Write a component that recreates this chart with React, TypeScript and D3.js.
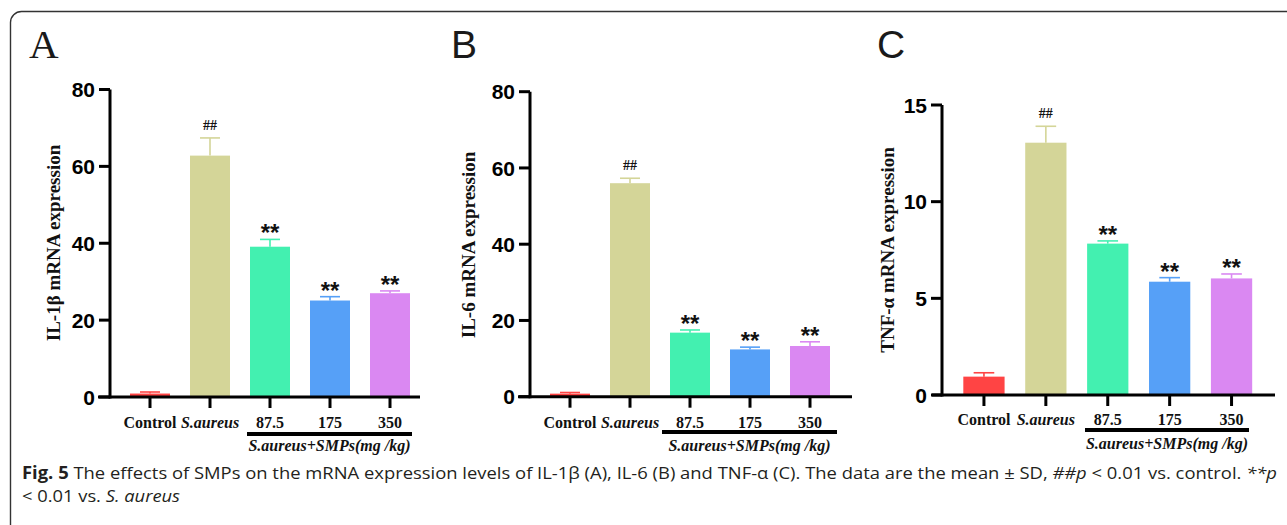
import React from "react";
import * as d3 from "d3";

// ---------- data ----------
const groups = ["Control", "S.aureus", "87.5", "175", "350"];
const groupItalic = [false, true, false, false, false];
const barColors = ["#FF4444", "#D4D598", "#43F0B0", "#56A0F7", "#DA88F2"];
const marks = ["", "##", "**", "**", "**"];

const il1bMean = [0.9, 62.8, 39.1, 25.1, 27.0];
const il1bSD = [0.4, 4.6, 1.9, 1.0, 0.6];
const il6Mean = [0.8, 56.0, 16.8, 12.4, 13.3];
const il6SD = [0.3, 1.3, 0.7, 0.6, 1.1];
const tnfMean = [0.95, 13.05, 7.83, 5.86, 6.03];
const tnfSD = [0.2, 0.85, 0.14, 0.21, 0.23];

const ticksA = [0, 20, 40, 60, 80];
const ticksB = [0, 20, 40, 60, 80];
const ticksC = [0, 5, 10, 15];

const subtitle = "S.aureus+SMPs(mg /kg)";

// ---------- layout ----------
const panels = [
  {
    letter: "A", letterFont: "'Liberation Serif', serif", letterX: 29, letterSize: 41,
    means: il1bMean, sds: il1bSD, ticks: ticksA, yMax: 80,
    yLabel: "IL-1β mRNA expression", yLabelX: 53, yLabelY: 243,
    axisX: 110, yTop: 89.5, y0: 397, bandR: [120, 420], axisLeft: 98, axisRight: 420,
    ul: [247, 412], ulY: 434, labelY: 428, subY: 451,
  },
  {
    letter: "B", letterFont: "'Liberation Sans', Arial, sans-serif", letterX: 451, letterSize: 39,
    means: il6Mean, sds: il6SD, ticks: ticksB, yMax: 80,
    yLabel: "IL-6 mRNA expression", yLabelX: 468, yLabelY: 245,
    axisX: 530, yTop: 91.7, y0: 396.7, bandR: [540, 840], axisLeft: 518, axisRight: 852,
    ul: [662, 837], ulY: 432, labelY: 428, subY: 451,
  },
  {
    letter: "C", letterFont: "'Liberation Sans', Arial, sans-serif", letterX: 877, letterSize: 39,
    means: tnfMean, sds: tnfSD, ticks: ticksC, yMax: 15,
    yLabel: "TNF-α mRNA expression", yLabelX: 887, yLabelY: 250,
    axisX: 942, yTop: 105, y0: 395, bandR: [953, 1262.5], axisLeft: 932, axisRight: 1275,
    ul: [1085, 1249], ulY: 430, labelY: 425, subY: 449,
  },
];

const serif = "'Liberation Serif', 'Times New Roman', serif";
const sans = "'Liberation Sans', Arial, sans-serif";

function Panel({ p }: { p: any }) {
  const y = d3.scaleLinear().domain([0, p.yMax]).range([p.y0, p.yTop]);
  const x = d3
    .scaleBand<string>()
    .domain(groups)
    .range(p.bandR)
    .paddingInner(1 / 3)
    .paddingOuter(1 / 6);
  const bw = x.bandwidth();
  const axisStroke = 3;
  return (
    <g>
      <text x={p.letterX} y={58} fontFamily={p.letterFont} fontSize={p.letterSize} fill="#1a1a1a">
        {p.letter}
      </text>
      {/* bars */}
      {groups.map((g, i) => {
        const cx = (x(g) as number) + bw / 2;
        const top = y(p.means[i]);
        const errTop = y(p.means[i] + p.sds[i]);
        return (
          <g key={g}>
            <line x1={cx} x2={cx} y1={top} y2={errTop} stroke={barColors[i]} strokeWidth={1.6} />
            <line x1={cx - bw / 4} x2={cx + bw / 4} y1={errTop} y2={errTop} stroke={barColors[i]} strokeWidth={1.6} />
            <rect x={x(g)} y={top} width={bw} height={p.y0 - top} fill={barColors[i]} />
            {marks[i] === "##" && (
              <text x={cx} y={errTop - 8} textAnchor="middle" fontFamily={serif} fontWeight="bold" fontSize={14} fill="#111">
                {marks[i]}
              </text>
            )}
            {marks[i] === "**" && (
              <text x={cx} y={errTop + 2} textAnchor="middle" fontFamily={sans} fontWeight="bold" fontSize={24} fill="#111">
                {marks[i]}
              </text>
            )}
          </g>
        );
      })}
      {/* y axis */}
      <line x1={p.axisX} x2={p.axisX} y1={y(p.yMax)} y2={p.y0 + axisStroke / 2} stroke="#000" strokeWidth={axisStroke} />
      {p.ticks.map((t: number) => (
        <g key={t}>
          <line x1={p.axisX - 11} x2={p.axisX} y1={y(t)} y2={y(t)} stroke="#000" strokeWidth={axisStroke} />
          <text
            x={p.axisX - 15}
            y={y(t)}
            dy="0.36em"
            textAnchor="end"
            fontFamily={sans}
            fontWeight="bold"
            fontSize={21}
            fill="#000"
          >
            {t}
          </text>
        </g>
      ))}
      {/* x axis */}
      <line x1={p.axisLeft} x2={p.axisRight} y1={p.y0} y2={p.y0} stroke="#000" strokeWidth={axisStroke} />
      {groups.map((g, i) => {
        const cx = (x(g) as number) + bw / 2;
        return (
          <g key={"t" + g}>
            <line x1={cx} x2={cx} y1={p.y0} y2={p.y0 + 11} stroke="#000" strokeWidth={axisStroke} />
            <text
              x={cx}
              y={p.labelY}
              textAnchor="middle"
              fontFamily={serif}
              fontWeight="bold"
              fontStyle={groupItalic[i] ? "italic" : "normal"}
              fontSize={16}
              fill="#111"
            >
              {g}
            </text>
          </g>
        );
      })}
      <line x1={p.ul[0]} x2={p.ul[1]} y1={p.ulY} y2={p.ulY} stroke="#000" strokeWidth={4} />
      <text
        x={(p.ul[0] + p.ul[1]) / 2}
        y={p.subY}
        textAnchor="middle"
        fontFamily={serif}
        fontWeight="bold"
        fontStyle="italic"
        fontSize={16}
        fill="#111"
      >
        {subtitle}
      </text>
      <text
        transform={`translate(${p.yLabelX},${p.yLabelY}) rotate(-90)`}
        textAnchor="middle"
        dy="0.35em"
        fontFamily={serif}
        fontWeight="bold"
        fontSize={19}
        fill="#111"
      >
        {p.yLabel}
      </text>
    </g>
  );
}

export default function App() {
  const capFont = "'Open Sans', 'Noto Sans', sans-serif";
  return (
    <svg width={1287} height={525} style={{ position: "absolute", left: 0, top: 0, background: "#fff" }}>
      <rect x={0} y={0} width={1287} height={525} fill="#fff" />
      <rect x={10.5} y={11.5} width={1300} height={540} rx={11} fill="none" stroke="#333" strokeWidth={1.4} />
      {panels.map((p) => (
        <Panel key={p.letter} p={p} />
      ))}
      <text x={22} y={479} fontFamily={capFont} fontSize={17} fill="#231f20" textLength={1255} lengthAdjust="spacingAndGlyphs">
        <tspan fontWeight="bold">Fig. 5</tspan>
        <tspan>{"  The effects of SMPs on the mRNA expression levels of IL-1β (A), IL-6 (B) and TNF-α (C). The data are the mean ± SD, "}</tspan>
        <tspan fontStyle="italic">##p</tspan>
        <tspan>{" < 0.01 vs. control. "}</tspan>
        <tspan fontStyle="italic">**p</tspan>
      </text>
      <text x={22} y={502} fontFamily={capFont} fontSize={17} fill="#231f20" textLength={158} lengthAdjust="spacingAndGlyphs">
        <tspan>{"< 0.01 vs. "}</tspan>
        <tspan fontStyle="italic">S. aureus</tspan>
      </text>
    </svg>
  );
}
